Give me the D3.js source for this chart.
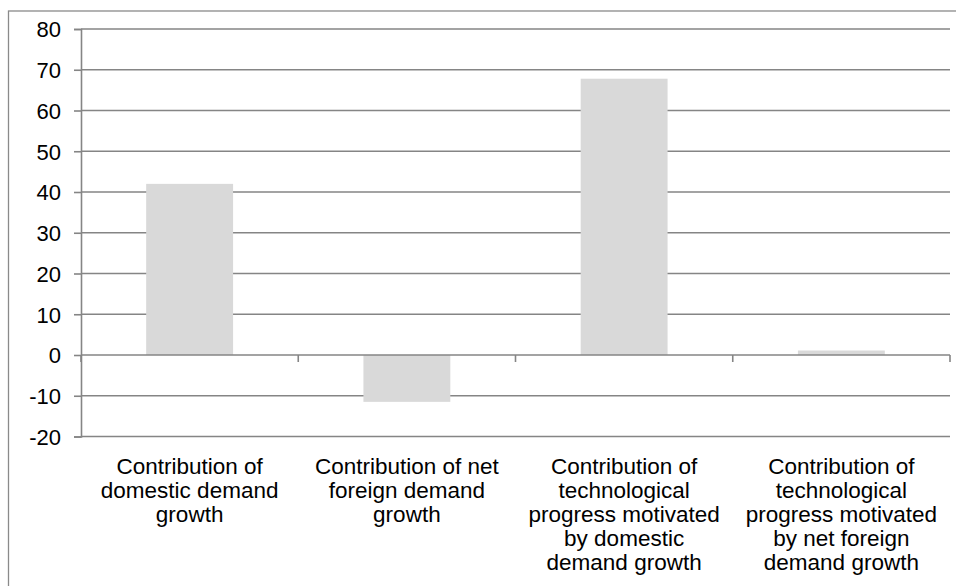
<!DOCTYPE html>
<html lang="en">
<head>
    <meta charset="UTF-8">
    <title>Contributions</title>
    <script src="https://d3js.org/d3.v7.min.js"></script>
    <style>
        body { margin: 0; background: #fff; }
        text { font-family: "Liberation Sans", Arial, sans-serif; fill: #000; }
    </style>
</head>
<body>
    <svg id="chart" width="956" height="586"></svg>
    <script>
        // chart data
        const categories = [
            "Contribution of domestic demand growth",
            "Contribution of net foreign demand growth",
            "Contribution of technological progress motivated by domestic demand growth",
            "Contribution of technological progress motivated by net foreign demand growth"
        ];
        const labelLines = [
            ["Contribution of", "domestic demand", "growth"],
            ["Contribution of net", "foreign demand", "growth"],
            ["Contribution of", "technological", "progress motivated", "by domestic", "demand growth"],
            ["Contribution of", "technological", "progress motivated", "by net foreign", "demand growth"]
        ];
        const values = [42, -11.5, 67.8, 1.1];
        const yTicks = [-20, -10, 0, 10, 20, 30, 40, 50, 60, 70, 80];

        const svg = d3.select("#chart");
        const plot = {left: 81, right: 950, top: 29, bottom: 436.5};
        const gridColor = "#858585";

        // outer chart border
        svg.append("rect")
            .attr("x", 8.5).attr("y", 11)
            .attr("width", 960).attr("height", 600)
            .attr("fill", "none")
            .attr("stroke", "#8a8a8a")
            .attr("stroke-width", 1.3);

        const y = d3.scaleLinear().domain([-20, 80]).range([plot.bottom, plot.top]);
        const x = d3.scaleBand()
            .domain(categories)
            .range([plot.left, plot.right])
            .paddingInner(0.6)
            .paddingOuter(0.3);

        // gridlines
        svg.append("g")
            .selectAll("line")
            .data(yTicks.filter(d => d !== 0))
            .join("line")
            .attr("x1", plot.left).attr("x2", plot.right)
            .attr("y1", d => y(d)).attr("y2", d => y(d))
            .attr("stroke", gridColor)
            .attr("stroke-width", 1.6);

        // bars
        svg.append("g")
            .selectAll("rect")
            .data(values)
            .join("rect")
            .attr("x", (d, i) => x(categories[i]))
            .attr("width", x.bandwidth())
            .attr("y", d => y(Math.max(0, d)))
            .attr("height", d => Math.abs(y(d) - y(0)))
            .attr("fill", "#d9d9d9");

        // y axis (plain hyphen for negatives, like the original)
        const yAxis = svg.append("g")
            .attr("transform", `translate(${plot.left},0)`)
            .call(d3.axisLeft(y).tickValues(yTicks).tickFormat(d => String(d)).tickSize(7).tickPadding(13));
        yAxis.select(".domain").attr("stroke", gridColor).attr("stroke-width", 1.6);
        yAxis.selectAll(".tick line").attr("stroke", gridColor).attr("stroke-width", 1.6);
        yAxis.selectAll(".tick text")
            .attr("font-size", 22)
            .attr("font-family", "Liberation Sans, Arial, sans-serif")
            .attr("fill", "#000")
            .attr("dy", "0.36em");

        // category axis along zero
        svg.append("line")
            .attr("x1", plot.left).attr("x2", plot.right)
            .attr("y1", y(0)).attr("y2", y(0))
            .attr("stroke", gridColor)
            .attr("stroke-width", 1.6);
        svg.append("g")
            .selectAll("line")
            .data(d3.range(categories.length + 1))
            .join("line")
            .attr("x1", i => plot.left + i * x.step())
            .attr("x2", i => plot.left + i * x.step())
            .attr("y1", y(0))
            .attr("y2", y(0) + 7)
            .attr("stroke", gridColor)
            .attr("stroke-width", 1.6);

        // category labels
        const lab = svg.append("g")
            .selectAll("text")
            .data(categories)
            .join("text")
            .attr("text-anchor", "middle")
            .attr("font-size", 22.5)
            .attr("transform", d => `translate(${x(d) + x.bandwidth() / 2},474)`);
        lab.selectAll("tspan")
            .data((d, i) => labelLines[i])
            .join("tspan")
            .attr("x", 0)
            .attr("y", (d, i) => i * 24)
            .text(d => d);
    </script>
</body>
</html>
